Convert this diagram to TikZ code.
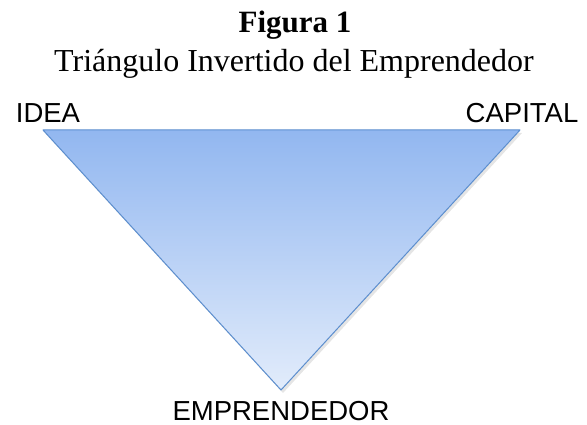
\documentclass[tikz,border=0pt]{standalone}
\usepackage{fontspec}
\setmainfont{Liberation Serif}
\newfontfamily\arialf{Liberation Sans}
\definecolor{triTop}{RGB}{146,183,240}
\definecolor{triBot}{RGB}{226,236,251}
\definecolor{triEdge}{RGB}{92,142,206}
\tikzset{
  titlebox/.style={font=\bfseries\fontsize{31}{34}\selectfont, inner sep=0pt, anchor=base},
  subtitlebox/.style={font=\fontsize{32}{36}\selectfont, inner sep=0pt, anchor=base},
  vlabel/.style={font=\arialf\fontsize{27.5}{30}\selectfont, inner sep=0pt, anchor=base},
}
\begin{document}
\begin{tikzpicture}[x=1pt,y=-1pt]
\useasboundingbox (0,0) rectangle (587,425);
\coordinate (tl) at (43,130);
\coordinate (tr) at (520,130);
\coordinate (bt) at (281,390);
% soft shadow
\fill[black,opacity=0.10] ([shift={(2,3)}]tl) -- ([shift={(2,3)}]tr) -- ([shift={(2,3)}]bt) -- cycle;
\shade[top color=triTop, bottom color=triBot] (tl) -- (tr) -- (bt) -- cycle;
\draw[triEdge, line width=1pt, line join=round] (tl) -- (tr) -- (bt) -- cycle;
\node[titlebox] (title) at (295,33) {Figura 1};
\node[subtitlebox] (sub) at (294,72) {Triángulo Invertido del Emprendedor};
\node[vlabel] (idea) at (48,123) {IDEA};
\node[vlabel] (capital) at (522,123) {CAPITAL};
\node[vlabel] (empr) at (281,420) {EMPRENDEDOR};
\end{tikzpicture}
\end{document}
